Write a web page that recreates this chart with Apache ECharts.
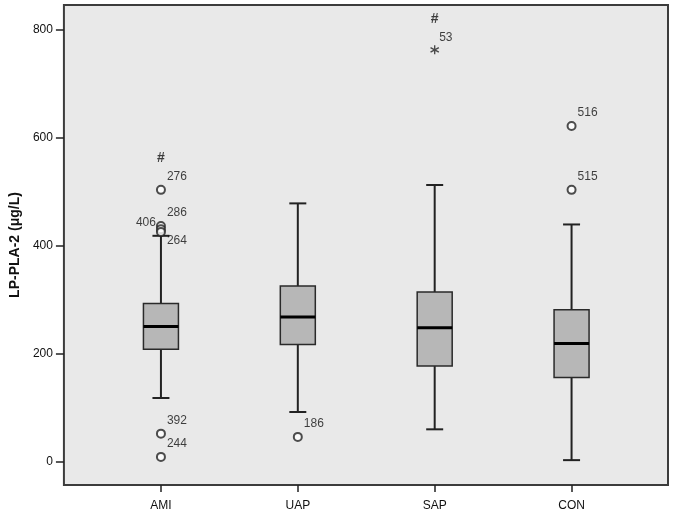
<!DOCTYPE html>
<html>
<head>
<meta charset="utf-8">
<script src="https://cdn.jsdelivr.net/npm/echarts@6/dist/echarts.min.js"></script>
<style>html,body{margin:0;padding:0;background:#fff}#c{width:676px;height:516px}</style>
</head>
<body>
<div id="c"></div>
<script>
const categories = ['AMI', 'UAP', 'SAP', 'CON'];
const boxMin    = [118,  92,  60,   3];
const boxQ1     = [208, 217, 177, 156];
const boxMedian = [250, 268, 248, 219];
const boxQ3     = [293, 325, 314, 281];
const boxMax    = [418, 478, 512, 439];

const outlierCat   = [0, 0, 0, 0, 0, 0, 1, 3, 3];
const outlierValue = [503, 436, 430, 425, 52, 9, 46, 621, 503];
const outlierLabel = ['276', '286', '406', '264', '392', '244', '186', '516', '515'];

const extremeCat   = [2];
const extremeValue = [762];
const extremeLabel = ['53'];

const markCat   = [0, 2];
const markValue = [562, 819];
const markText  = ['#', '#'];

const yTicks = [0, 200, 400, 600, 800];
const yMin = -43, yMax = 845;

// label placement styles keyed by label
const labelStyle = {
  '406': { position: 'left', offset: [1, -7] },
  '264': { position: 'right', offset: [0, 9] }
};

const boxData = categories.map((c, i) => [i, boxMin[i], boxQ1[i], boxMedian[i], boxQ3[i], boxMax[i]]);
const outlierData = outlierValue.map((v, i) => {
  const s = labelStyle[outlierLabel[i]] || { position: 'right', offset: [0, -13] };
  return { value: [outlierCat[i], v], label: { formatter: outlierLabel[i], position: s.position, offset: s.offset } };
});
const extremeData = extremeValue.map((v, i) => ({ value: [extremeCat[i], v], label: { formatter: extremeLabel[i] } }));
const markData = markValue.map((v, i) => ({ value: [markCat[i], v], label: { formatter: markText[i] } }));

const asterisk = 'path://M4.3 0L5.7 0L5.7 10L4.3 10Z' +
  'M0.32 3.106L1.02 1.894L9.68 6.894L8.98 8.106Z' +
  'M1.02 8.106L0.32 6.894L8.98 1.894L9.68 3.106Z';

function renderBox(params, api) {
  const x = api.value(0);
  const lo = api.coord([x, api.value(1)]);
  const q1 = api.coord([x, api.value(2)]);
  const md = api.coord([x, api.value(3)]);
  const q3 = api.coord([x, api.value(4)]);
  const hi = api.coord([x, api.value(5)]);
  const cx = lo[0];
  const bw = 35, cw = 17;
  const ls = { stroke: '#222', lineWidth: 2 };
  return {
    type: 'group',
    children: [
      { type: 'line', shape: { x1: cx, y1: hi[1], x2: cx, y2: q3[1] }, style: ls },
      { type: 'line', shape: { x1: cx, y1: q1[1], x2: cx, y2: lo[1] }, style: ls },
      { type: 'line', shape: { x1: cx - cw / 2, y1: hi[1], x2: cx + cw / 2, y2: hi[1] }, style: ls },
      { type: 'line', shape: { x1: cx - cw / 2, y1: lo[1], x2: cx + cw / 2, y2: lo[1] }, style: ls },
      { type: 'rect', shape: { x: cx - bw / 2, y: q3[1], width: bw, height: q1[1] - q3[1] },
        style: { fill: '#b7b7b7', stroke: '#2a2a2a', lineWidth: 1.5 } },
      { type: 'line', shape: { x1: cx - bw / 2, y1: md[1], x2: cx + bw / 2, y2: md[1] },
        style: { stroke: '#000', lineWidth: 3 } }
    ]
  };
}

const chart = echarts.init(document.getElementById('c'), null, { renderer: 'canvas' });
const font = 'Liberation Sans, Arial, sans-serif';
chart.setOption({
  animation: false,
  backgroundColor: '#fff',
  grid: [
    { left: 62, right: 8, top: 5, bottom: 31, show: true, backgroundColor: '#e9e9e9', borderColor: '#3c3c3c', borderWidth: 2, z: 0 },
    { left: 92.5, right: 36, top: 5, bottom: 31 }
  ],
  xAxis: [
    { gridIndex: 0, type: 'value', min: 0, max: 1, show: false },
    { gridIndex: 1, type: 'category', data: categories, boundaryGap: true, position: 'bottom',
      axisLine: { show: false, onZero: false },
      axisTick: { show: true, alignWithLabel: true, length: 7, lineStyle: { color: '#222', width: 1.5 } },
      axisLabel: { color: '#111', fontSize: 12, fontFamily: font, margin: 15 } }
  ],
  yAxis: [
    { gridIndex: 0, type: 'value', min: yMin, max: yMax,
      name: 'LP-PLA-2 (μg/L)', nameLocation: 'middle', nameGap: 35,
      nameTextStyle: { fontSize: 14, fontWeight: 'bold', color: '#111', fontFamily: font },
      axisLine: { show: false },
      splitLine: { show: false },
      axisTick: { show: true, length: 8, customValues: yTicks, lineStyle: { color: '#222', width: 1.5 } },
      axisLabel: { color: '#111', fontSize: 12, fontFamily: font, margin: 11, customValues: yTicks } },
    { gridIndex: 1, type: 'value', min: yMin, max: yMax, show: false, splitLine: { show: false } }
  ],
  series: [
    { type: 'custom', xAxisIndex: 1, yAxisIndex: 1, renderItem: renderBox, data: boxData, z: 3 },
    { type: 'scatter', xAxisIndex: 1, yAxisIndex: 1, data: outlierData, symbol: 'emptyCircle', symbolSize: 8,
      itemStyle: { color: '#222', borderColor: '#222', borderWidth: 1.5 },
      label: { show: true, color: '#111', fontSize: 12, fontFamily: font, distance: 1 }, z: 4 },
    { type: 'scatter', xAxisIndex: 1, yAxisIndex: 1, data: extremeData, symbol: asterisk, symbolSize: 9,
      itemStyle: { color: '#222' },
      label: { show: true, position: 'right', offset: [0, -12], distance: 0, color: '#111', fontSize: 12, fontFamily: font }, z: 4 },
    { type: 'scatter', xAxisIndex: 1, yAxisIndex: 1, data: markData, symbol: 'circle', symbolSize: 2,
      itemStyle: { color: 'rgba(0,0,0,0)' },
      label: { show: true, position: 'inside', color: '#111', fontSize: 14, fontWeight: 'bold', fontFamily: font }, z: 4 }
  ]
});
</script>
</body>
</html>
